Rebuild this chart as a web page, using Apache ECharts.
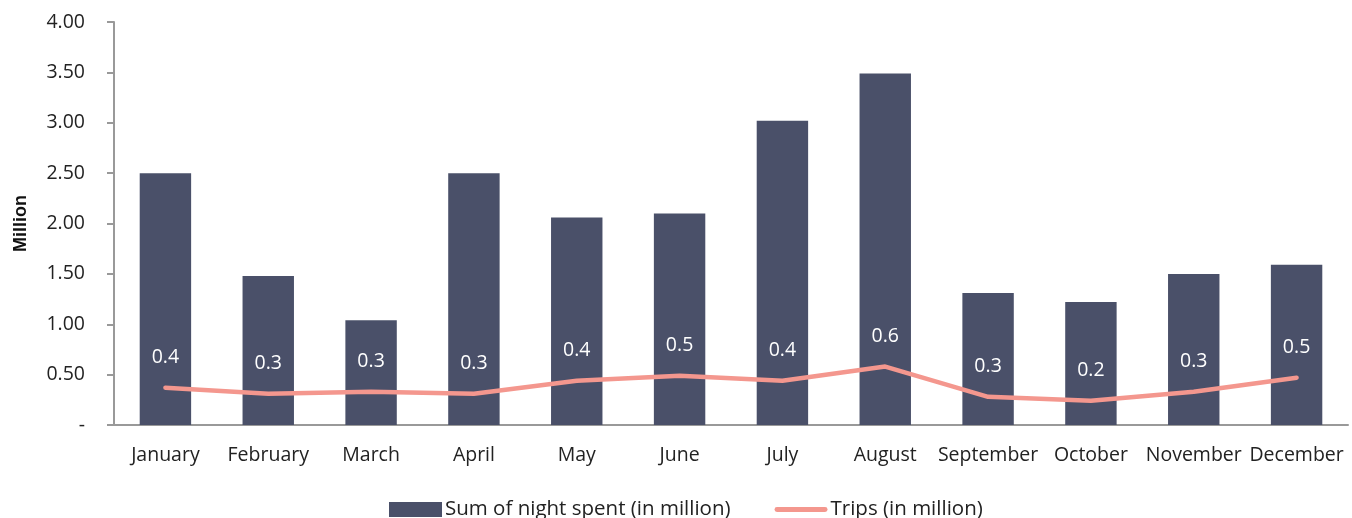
<!DOCTYPE html>
<html>
<head>
<meta charset="utf-8">
<script src="https://cdn.jsdelivr.net/npm/echarts@6/dist/echarts.min.js"></script>
<style>html,body{margin:0;padding:0;background:#fff}#c{width:1352px;height:518px}</style>
</head>
<body>
<div id="c"></div>
<script>
const months = ['January','February','March','April','May','June','July','August','September','October','November','December'];
const nights = [2.50, 1.48, 1.04, 2.50, 2.06, 2.10, 3.02, 3.49, 1.31, 1.22, 1.50, 1.59];
const trips = [0.37, 0.31, 0.33, 0.31, 0.44, 0.49, 0.44, 0.58, 0.28, 0.24, 0.33, 0.47];
const seriesNames = ['Sum of night spent (in million)', 'Trips (in million)'];
const yAxisName = 'Million';

const font = '"Open Sans", "Noto Sans", sans-serif';
const fs = 19.5;
const chart = echarts.init(document.getElementById('c'), null, {renderer: 'canvas'});
chart.setOption({
  animation: false,
  textStyle: {fontFamily: font},
  grid: {left: 114, right: 4, top: 22, bottom: 93},
  legend: {
    top: 494, left: 384, itemGap: 44, itemWidth: 53, itemHeight: 15,
    textStyle: {fontFamily: font, fontSize: 20.5, color: '#222', padding: [0, 0, 0, -2]},
    data: [
      {name: seriesNames[0], icon: 'rect'},
      {name: seriesNames[1], icon: 'path://M3,0 L52,0 A2.5,2.5 0 0 1 52,5 L3,5 A2.5,2.5 0 0 1 3,0 Z'}
    ]
  },
  xAxis: {
    type: 'category', data: months,
    axisLine: {lineStyle: {color: '#999', width: 2}},
    axisTick: {show: false},
    axisLabel: {fontSize: fs, color: '#222', margin: 20, interval: 0, fontFamily: font}
  },
  yAxis: {
    type: 'value', min: 0, max: 4, interval: 0.5,
    name: yAxisName, nameLocation: 'middle', nameGap: 84, nameRotate: 90,
    nameTextStyle: {fontWeight: 'bold', fontSize: 18, color: '#111', fontFamily: '"Liberation Sans", Arial, sans-serif'},
    axisLine: {show: true, lineStyle: {color: '#999', width: 2}},
    axisTick: {show: true, length: 7, lineStyle: {color: '#999', width: 2}},
    splitLine: {show: false},
    axisLabel: {fontSize: fs, color: '#222', margin: 29, fontFamily: font,
      formatter: v => v === 0 ? '-' : v.toFixed(2)}
  },
  series: [
    {name: seriesNames[0], type: 'bar', data: nights, barWidth: '50%',
     itemStyle: {color: '#4a5069'}},
    {name: seriesNames[1], type: 'line', data: trips, symbol: 'circle', symbolSize: 0.01,
     lineStyle: {color: '#f4978e', width: 4.5, cap: 'round'}, itemStyle: {color: '#f4978e'},
     label: {show: true, position: 'top', distance: 20, color: '#fff', fontSize: fs, fontFamily: font,
       formatter: p => p.value.toFixed(1)}}
  ]
});
</script>
</body>
</html>
